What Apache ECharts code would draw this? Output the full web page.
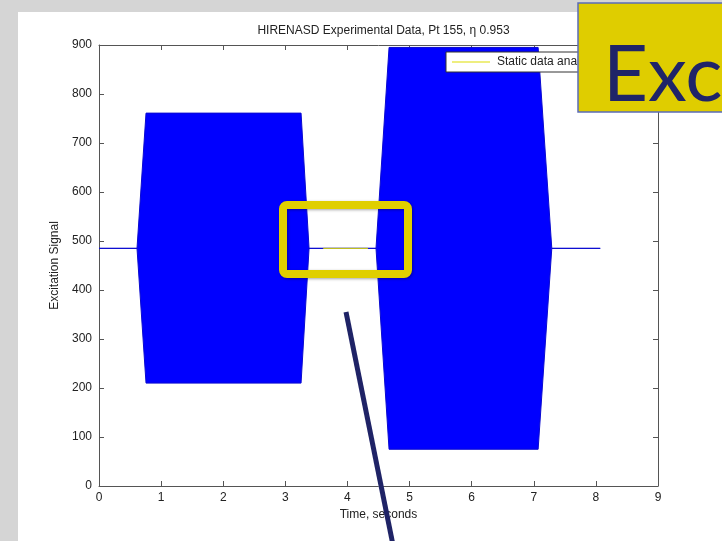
<!DOCTYPE html>
<html>
<head>
<meta charset="utf-8">
<script src="https://cdn.jsdelivr.net/npm/echarts@6/dist/echarts.min.js"></script>
<style>
  html, body { margin: 0; padding: 0; background: #fff; }
  #chart { width: 722px; height: 541px; }
</style>
</head>
<body>
<div id="chart"></div>
<script>
// Envelope of the excitation signal (seconds, upper and lower extremes)
const envTime  = [0, 0.612, 0.757, 3.253, 3.382, 4.46, 4.67, 7.07, 7.29, 8.07];
const envUpper = [485, 485, 761, 761, 485, 485, 895, 895, 485, 485];
const envLower = [485, 485, 210, 210, 485, 485, 75, 75, 485, 485];

// Static data analysis window
const staticTime  = [3.61, 4.33];
const staticValue = [485, 485];

const xTicks = [0, 1, 2, 3, 4, 5, 6, 7, 8, 9];
const yTicks = [0, 100, 200, 300, 400, 500, 600, 700, 800, 900];

const titleText = 'HIRENASD Experimental Data, Pt 155, \u03b7 0.953';
const legendText = 'Static data analysis';
const calloutText = 'Exc';

const FONT = '"Liberation Sans", Arial, sans-serif';
const AXIS = '#555';
const INK = '#222';

const chart = echarts.init(document.getElementById('chart'), null, { renderer: 'canvas' });

const envRows = envTime.map((t, i) => [t, envUpper[i], envLower[i]]);

const commonX = {
  type: 'value', min: xTicks[0], max: xTicks[xTicks.length - 1], interval: 1,
  splitLine: { show: false },
  axisLine: { show: true, onZero: false, lineStyle: { color: AXIS, width: 1 } },
  axisTick: { show: true, inside: true, length: 5, lineStyle: { color: AXIS } }
};
const commonY = {
  type: 'value', min: yTicks[0], max: yTicks[yTicks.length - 1], interval: 100,
  splitLine: { show: false },
  axisLine: { show: true, onZero: false, lineStyle: { color: AXIS, width: 1 } },
  axisTick: { show: true, inside: true, length: 5, lineStyle: { color: AXIS } }
};

chart.setOption({
  backgroundColor: '#ffffff',
  animation: false,
  title: {
    text: titleText,
    left: 378.5, top: 20, textAlign: 'center',
    textStyle: { fontFamily: FONT, fontSize: 12, fontWeight: 'normal', color: INK }
  },
  legend: {
    data: [legendText],
    left: 446, top: 52,
    orient: 'vertical',
    backgroundColor: '#fff',
    borderColor: '#333', borderWidth: 1, borderRadius: 0,
    padding: [4, 8, 4, 6],
    itemWidth: 38, itemHeight: 1, itemGap: 0,
    icon: 'rect',
    textStyle: { fontFamily: FONT, fontSize: 12, color: INK, padding: [0, 0, 0, 2] },
    z: 6
  },
  grid: { left: 99, right: 64, top: 45, bottom: 55, containLabel: false },
  xAxis: [
    Object.assign({}, commonX, {
      position: 'bottom',
      name: 'Time, seconds', nameLocation: 'middle', nameGap: 22,
      nameTextStyle: { fontFamily: FONT, fontSize: 12, color: INK },
      axisLabel: { show: true, margin: 6, fontFamily: FONT, fontSize: 12, color: INK }
    }),
    Object.assign({}, commonX, { position: 'top', axisLabel: { show: false } })
  ],
  yAxis: [
    Object.assign({}, commonY, {
      position: 'left',
      name: 'Excitation Signal', nameLocation: 'middle', nameGap: 25,
      nameTextStyle: { fontFamily: FONT, fontSize: 12, color: INK },
      axisLabel: { show: true, margin: 7, fontFamily: FONT, fontSize: 12, color: INK }
    }),
    Object.assign({}, commonY, { position: 'right', axisLabel: { show: false } })
  ],
  series: [
    {
      name: 'Excitation',
      type: 'custom',
      xAxisIndex: 0, yAxisIndex: 0,
      data: envRows,
      encode: { x: 0, y: [1, 2] },
      z: 2,
      renderItem: function (params, api) {
        if (params.dataIndex !== 0) return null;
        const pts = [];
        for (let i = 0; i < envRows.length; i++) pts.push(api.coord([envRows[i][0], envRows[i][1]]));
        for (let i = envRows.length - 1; i >= 0; i--) pts.push(api.coord([envRows[i][0], envRows[i][2]]));
        return {
          type: 'polygon',
          shape: { points: pts },
          style: { fill: '#0000ff', stroke: '#0a0ad0', lineWidth: 1 }
        };
      }
    },
    {
      name: legendText,
      type: 'line',
      xAxisIndex: 0, yAxisIndex: 0,
      data: staticTime.map((t, i) => [t, staticValue[i]]),
      showSymbol: false, symbol: 'none',
      lineStyle: { color: '#dede00', width: 1 },
      itemStyle: { color: '#dede00' },
      z: 3
    }
  ],
  graphic: [
    // slide backdrop strips
    { type: 'rect', z: 50, shape: { x: 0, y: 0, width: 722, height: 12 }, style: { fill: '#d5d5d5' } },
    { type: 'rect', z: 50, shape: { x: 0, y: 0, width: 18, height: 541 }, style: { fill: '#d5d5d5' } },
    // highlight frame around the static window
    {
      type: 'rect', z: 60,
      shape: { x: 283, y: 205, width: 125, height: 69, r: 4 },
      style: { fill: 'none', stroke: '#e0cf00', lineWidth: 8,
               shadowBlur: 3, shadowOffsetX: 1, shadowOffsetY: 1, shadowColor: 'rgba(0,0,0,0.35)' }
    },
    // pointer line
    {
      type: 'line', z: 60,
      shape: { x1: 346, y1: 312, x2: 393, y2: 545 },
      style: { stroke: '#1f2366', lineWidth: 5 }
    },
    // callout box
    {
      type: 'rect', z: 70,
      shape: { x: 578, y: 3, width: 150, height: 109 },
      style: { fill: '#dfcd00', stroke: '#5b6cb8', lineWidth: 1.5 }
    },
    {
      type: 'text', z: 71,
      x: 603, y: 37,
      style: { text: calloutText, fill: '#1f2468', font: '78px Lato, "Open Sans", sans-serif', verticalAlign: 'top' }
    }
  ]
});
</script>
</body>
</html>
